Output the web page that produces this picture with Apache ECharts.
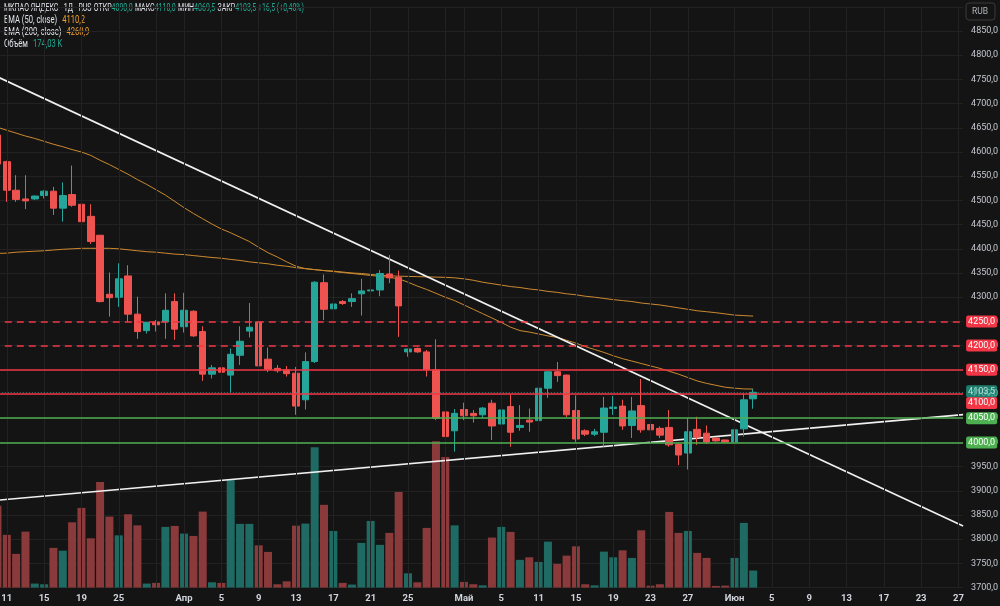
<!DOCTYPE html>
<html lang="ru">
<head>
<meta charset="utf-8">
<title>МКПАО ЯНДЕКС - 1Д</title>
<script src="https://cdn.jsdelivr.net/npm/echarts@6.0.0/dist/echarts.min.js"></script>
<style>
    html, body { margin: 0; background: #141414; }
    #chart { width: 1000px; height: 606px; }
</style>
</head>
<body>
<div id="chart"></div>
<script>
// slots run from -1 (partly hidden candle at the left edge) to 102 (empty future days)
var firstSlot = -1;
var lastSlot = 102;

// daily candles, slot -1 .. 80
var opens = [4635, 4580, 4521, 4503, 4503, 4510, 4519, 4484, 4512, 4492, 4467, 4428, 4306, 4300, 4344, 4265,
    4231, 4249, 4249, 4291, 4239, 4271, 4229, 4141, 4154, 4139, 4180, 4230, 4249, 4172, 4153, 4150, 4143, 4088,
    4167, 4330, 4276, 4291, 4291, 4307, 4313, 4315, 4348, 4341, 4187, 4194, 4187, 4150, 4063, 4024, 4068, 4060,
    4057, 4081, 4038, 4074, 4031, 4046, 4045, 4112, 4146, 4139, 4066, 4024, 4017, 4021, 4070, 4075, 4035, 4076,
    4037, 4029, 4031, 3996, 3978, 4027, 4019, 4009, 4005, 4001, 4028, 4090];
var highs = [4642, 4582, 4552, 4552, 4510, 4521, 4528, 4537, 4572, 4516, 4492, 4428, 4351, 4370, 4366, 4301,
    4249, 4253, 4308, 4308, 4309, 4273, 4240, 4160, 4156, 4194, 4240, 4288, 4256, 4196, 4160, 4158, 4156, 4186,
    4333, 4347, 4323, 4294, 4308, 4338, 4378, 4356, 4387, 4355, 4193, 4196, 4191, 4213, 4094, 4069, 4082, 4067,
    4073, 4088, 4082, 4098, 4077, 4070, 4121, 4147, 4166, 4140, 4097, 4027, 4028, 4094, 4096, 4088, 4094, 4131,
    4040, 4033, 4067, 3999, 4050, 4053, 4035, 4011, 4006, 4040, 4101, 4110];
var lows = [4568, 4497, 4497, 4482, 4501, 4504, 4470, 4456, 4487, 4424, 4410, 4289, 4260, 4280, 4249, 4214,
    4225, 4229, 4214, 4212, 4227, 4218, 4127, 4132, 4125, 4103, 4160, 4217, 4152, 4145, 4144, 4136, 4057, 4068,
    4164, 4253, 4236, 4284, 4280, 4262, 4287, 4302, 4329, 4218, 4177, 4185, 4136, 4046, 3967, 3981, 4046, 4041,
    4050, 4005, 3991, 3991, 4024, 4022, 4043, 4092, 4125, 4052, 4001, 4013, 4013, 3991, 4057, 4026, 4009, 4020,
    4024, 4009, 3991, 3953, 3944, 3995, 3997, 4001, 4000, 4001, 4012, 4069.5];
var closes = [4575, 4521, 4502, 4499, 4509, 4519, 4484, 4510, 4490, 4456, 4415, 4291, 4299, 4338, 4265, 4229,
    4248, 4243, 4273, 4234, 4273, 4220, 4141, 4154, 4145, 4182, 4209, 4238, 4158, 4151, 4148, 4142, 4075, 4167,
    4331, 4275, 4286, 4287, 4297, 4313, 4315, 4349, 4340, 4282, 4193, 4187, 4150, 4050, 4012, 4060, 4055, 4055,
    4071, 4034, 4067, 4021, 4035, 4042, 4112, 4146, 4138, 4057, 4007, 4017, 4022, 4071, 4073, 4034, 4065, 4026,
    4026, 4015, 3995, 3974, 4022, 4011, 4001, 4003, 4001, 4026, 4088, 4103.5];
// volume, thousands
var volumes = [836, 538, 344, 571, 41, 34, 405, 377, 666, 813, 503, 1078, 724, 533, 748, 635, 41, 48, 619, 629,
    551, 527, 775, 54, 48, 1102, 650, 650, 431, 364, 34, 64, 632, 653, 1431, 844, 578, 48, 31, 456, 680, 436, 558,
    976, 146, 54, 609, 1492, 1333, 635, 58, 34, 23, 510, 619, 568, 283, 309, 262, 469, 242, 326, 421, 34, 23, 367,
    309, 380, 303, 584, 20, 34, 772, 558, 578, 354, 303, 17, 20, 303, 660, 174.03];
var ema50 = [4651, 4645, 4639, 4633, 4628, 4622, 4616, 4611, 4605, 4600, 4593, 4583, 4574, 4564, 4554, 4543,
    4533, 4522, 4511, 4498, 4485, 4473, 4462, 4451, 4441, 4433, 4424, 4415, 4403, 4392, 4383, 4373, 4364, 4359,
    4357, 4355, 4353, 4351, 4349, 4347, 4345, 4343, 4341, 4338, 4331, 4323, 4316, 4308, 4300, 4293, 4284, 4275,
    4266, 4257, 4248, 4238, 4231, 4228, 4224, 4220, 4217, 4211, 4205, 4198, 4192, 4186, 4179, 4173, 4168, 4163,
    4158, 4153, 4147, 4141, 4134, 4127, 4122, 4118, 4114, 4112, 4110.5, 4110.2];
var ema200 = [4390.5, 4391, 4393, 4394, 4395, 4396, 4397.5, 4399, 4400, 4401, 4401, 4401, 4401, 4400, 4398,
    4396, 4394, 4393, 4391, 4389, 4388, 4386, 4384, 4382, 4380.5, 4378, 4376, 4373, 4371, 4369, 4366, 4364, 4361,
    4359, 4357, 4355, 4354, 4352, 4350, 4349, 4347, 4345.5, 4344, 4343.5, 4343, 4342.5, 4342, 4341.5, 4341, 4340,
    4338, 4335, 4331, 4328, 4325, 4322, 4320, 4317, 4315, 4312, 4310, 4307, 4305, 4302, 4300, 4297.5, 4295, 4293,
    4291, 4288, 4286, 4284, 4281, 4278, 4275, 4272, 4270, 4268, 4265.5, 4263, 4262, 4260.9];

// time axis
var tickSlots = [0, 4, 8, 12, 19, 23, 27, 31, 35, 39, 43, 49, 53, 57, 61, 65, 69, 73, 78, 82, 86, 90, 94, 98, 102];
var tickTexts = ['11', '15', '19', '25', 'Апр', '5', '9', '13', '17', '21', '25', 'Май', '5', '11', '15', '19',
    '23', '27', 'Июн', '5', '9', '13', '17', '23', '27'];
var gridSlots = [0, 4, 8, 12, 16, 19, 23, 27, 31, 35, 39, 43, 47, 49, 53, 57, 61, 65, 69, 73, 78, 82, 86, 90, 94,
    98, 102];

// drawn trend lines: [slot, price] at both ends of the plot
var downTrend = [[-1.5, 4759.8], [102.5, 3827.3]];
var upTrend = [[-1.5, 3879.8], [102.5, 4057.4]];

// horizontal levels
var redDashed = [4250, 4200];
var redSolid = [4150, 4100];
var greenSolid = [4050, 4000];
var lastPrice = 4103.5;

var UP = '#26a69a', DOWN = '#ef5350';
var RED_LVL = '#f23645', GREEN_LVL = '#4caf50';
var FONT = 'Roboto, sans-serif';

var slots = [];
for (var s = firstSlot; s <= lastSlot; s++) slots.push(String(s));

var candleData = [], volData = [];
for (var i = 0; i < opens.length; i++) {
    candleData.push([opens[i], closes[i], lows[i], highs[i]]);
    volData.push({
        value: volumes[i],
        itemStyle: { color: closes[i] >= opens[i] ? '#1f6b64' : '#8b3a3b' }
    });
}

function fmt(v) { return v.toFixed(1).replace('.', ','); }

function levelLine(v, color, type, labelColor, offsetY) {
    return {
        yAxis: v,
        lineStyle: { color: color, type: type, width: 1.5, opacity: 1 },
        label: {
            show: true, position: 'end', distance: 3,
            formatter: fmt(v), color: '#fff', fontSize: 9, fontFamily: FONT,
            backgroundColor: labelColor, padding: [2, 2, 1, 2], borderRadius: 2,
            offset: [0, offsetY || 0]
        }
    };
}

var levels = [];
redDashed.forEach(function (v) { levels.push(levelLine(v, RED_LVL, [7, 5], RED_LVL)); });
levels.push(levelLine(redSolid[0], RED_LVL, 'solid', RED_LVL));
levels.push(levelLine(redSolid[1], RED_LVL, 'solid', RED_LVL, 9));
greenSolid.forEach(function (v) { levels.push(levelLine(v, GREEN_LVL, 'solid', GREEN_LVL)); });
var lastLine = levelLine(lastPrice, UP, [1, 2], '#22ab94', -1);
lastLine.lineStyle.opacity = 0.7;
lastLine.lineStyle.width = 1;
levels.push(lastLine);

var chart = echarts.init(document.getElementById('chart'), null, { renderer: 'canvas' });

// the header lines are narrow in the original, so squeeze them horizontally
var legendLine = function (y, text, sx) {
    return {
        type: 'text', x: 4, y: y, scaleX: sx || 0.76,
        style: {
            text: text,
            rich: {
                w: { fill: '#e0e3eb', fontSize: 10, fontFamily: FONT },
                g: { fill: '#22ab94', fontSize: 10, fontFamily: FONT },
                o: { fill: '#f0a030', fontSize: 10, fontFamily: FONT }
            }
        }
    };
};

chart.setOption({
    backgroundColor: '#141414',
    animation: false,
    grid: { left: -7.2, width: 970.3, top: 6.8, height: 580.8, outerBoundsMode: 'none' },
    xAxis: [{
        type: 'category',
        data: slots,
        boundaryGap: true,
        axisLine: { show: false },
        axisTick: { show: false },
        splitLine: { show: false },
        axisLabel: {
            margin: 6,
            color: '#d1d4dc',
            fontSize: 9.5,
            fontFamily: FONT,
            fontWeight: 'bold',
            interval: function (idx) { return tickSlots.indexOf(idx + firstSlot) >= 0; },
            formatter: function (val, idx) {
                var k = tickSlots.indexOf(idx + firstSlot);
                return k >= 0 ? tickTexts[k] : '';
            }
        }
    }, {
        type: 'value', show: false, min: firstSlot - 0.5, max: lastSlot + 0.5
    }],
    yAxis: [{
        type: 'value',
        position: 'right',
        min: 3700, max: 4900, interval: 50,
        axisLine: { show: false },
        axisTick: { show: false },
        splitLine: { lineStyle: { color: '#222', width: 1 } },
        axisLabel: {
            margin: 8, color: '#c4c7cf', fontSize: 9, fontFamily: FONT,
            showMaxLabel: false,
            formatter: function (v) { return fmt(v); }
        }
    }, {
        type: 'value', show: false, min: 0, max: 5924
    }],
    graphic: [
        legendLine(2, '{w|МКПАО ЯНДЕКС - 1Д - RUS} {w|ОТКР}{g|4090,0} {w|МАКС}{g|4110,0} {w|МИН}{g|4069,5} {w|ЗАКР}{g|4103,5 +16,5 (+0,40%)}', 0.7),
        legendLine(14, '{w|EMA (50, close)}  {o|4110,2}'),
        legendLine(26, '{w|EMA (200, close)}  {o|4260,9}'),
        legendLine(38, '{w|Объём}  {g|174,03 K}'),
        {
            type: 'rect', x: 966, y: 3,
            shape: { width: 29, height: 17, r: 3 },
            style: { fill: '#141414', stroke: '#3a3a3a', lineWidth: 1 }
        },
        {
            type: 'text', x: 972, y: 7,
            style: { text: 'RUB', fill: '#b2b5be', fontSize: 8.5, fontFamily: FONT }
        }
    ],
    series: [{
        name: 'Объём',
        type: 'bar',
        xAxisIndex: 0, yAxisIndex: 1,
        data: volData,
        barWidth: 8,
        z: 1,
        markLine: {
            silent: true, symbol: 'none',
            label: { show: false },
            lineStyle: { color: '#222', width: 1, type: 'solid' },
            data: gridSlots.map(function (s) { return { xAxis: s - firstSlot }; })
        }
    }, {
        name: 'EMA 200',
        type: 'line',
        data: ema200,
        showSymbol: false,
        lineStyle: { color: '#cc8a30', width: 1 },
        z: 2,
        markLine: { silent: true, symbol: 'none', data: levels }
    }, {
        name: 'EMA 50',
        type: 'line',
        data: ema50,
        showSymbol: false,
        lineStyle: { color: '#cc8a30', width: 1 },
        z: 2
    }, {
        name: 'down',
        type: 'line',
        xAxisIndex: 1,
        data: downTrend,
        showSymbol: false,
        lineStyle: { color: '#f0f0f0', width: 1.6 },
        z: 3
    }, {
        name: 'up',
        type: 'line',
        xAxisIndex: 1,
        data: upTrend,
        showSymbol: false,
        lineStyle: { color: '#f0f0f0', width: 1.6 },
        z: 3
    }, {
        name: 'МКПАО ЯНДЕКС',
        type: 'candlestick',
        data: candleData,
        barWidth: 7,
        z: 4,
        itemStyle: {
            color: UP, color0: DOWN,
            borderColor: UP, borderColor0: DOWN, borderWidth: 1
        }
    }]
});
</script>
</body>
</html>
